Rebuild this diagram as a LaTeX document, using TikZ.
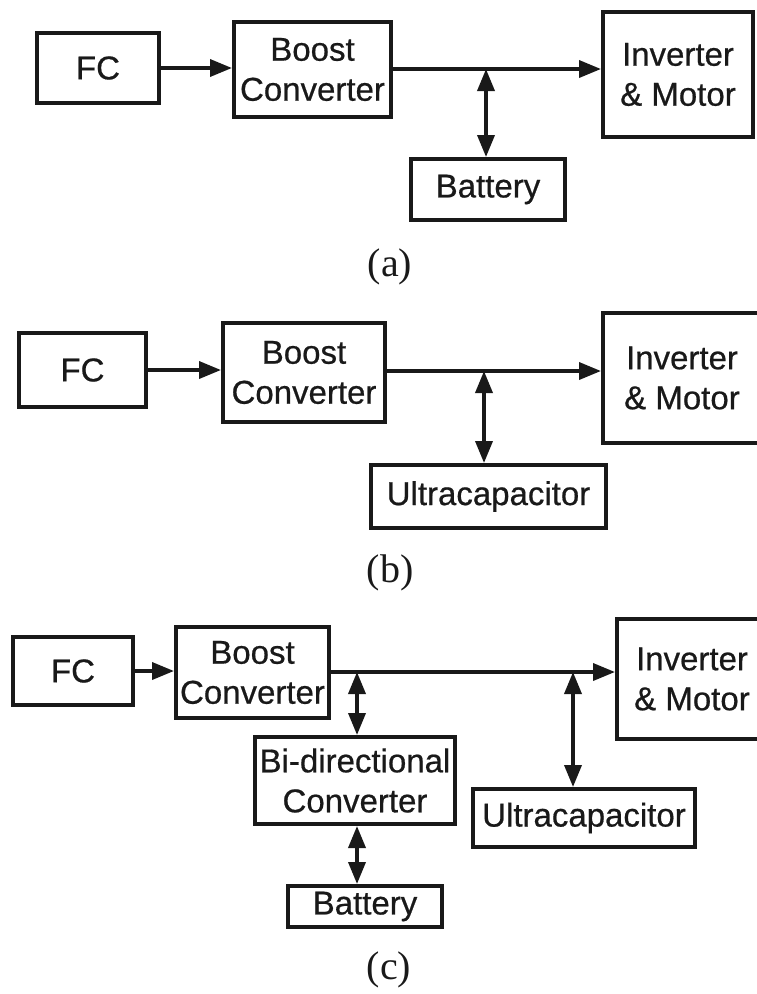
\documentclass[tikz,border=0pt]{standalone}
\usepackage{fontspec}
\setmainfont{Liberation Serif}
\setsansfont{Liberation Sans}[FakeBold=0.6]
\usetikzlibrary{arrows.meta}
\tikzset{
  blk/.style={draw=black!90, line width=4pt, inner sep=0pt, align=center,
    text=black!90, font=\sffamily\fontsize{33}{40}\selectfont},
  flow/.style={draw=black!90, line width=3.6pt, -{Triangle[length=22pt,width=17pt]}},
  dflow/.style={draw=black!90, line width=3.6pt, {Triangle[length=22pt,width=17pt]}-{Triangle[length=22pt,width=17pt]}},
  bus/.style={draw=black!90, line width=3.6pt},
  sublbl/.style={text=black!90, font=\fontsize{40}{42}\selectfont}
}
\begin{document}
\begin{tikzpicture}[x=1pt, y=-1pt]
    \useasboundingbox (0,0) rectangle (756,994);
    % (a)
    \node[blk, minimum width=122, minimum height=70] (fcA) at (98,68) {FC};
    \node[blk, minimum width=157, minimum height=95] (boostA) at (312.5,69.5) {Boost\\Converter};
    \node[blk, minimum width=150, minimum height=125] (invA) at (678,74.5) {Inverter\\\& Motor};
    \node[blk, minimum width=154, minimum height=61] (batA) at (488,189.5) {Battery};
    \coordinate (jA) at (486,69);
    \draw[flow] (fcA.east) -- (fcA.east -| boostA.west);
    \draw[flow] (boostA.east |- jA) -- (jA -| invA.west);
    \draw[dflow] (jA) -- (jA |- batA.north);
    \node[sublbl] (lblA) at (390,267) {(a)};
    % (b)
    \node[blk, minimum width=127, minimum height=74] (fcB) at (82.5,370) {FC};
    \node[blk, minimum width=162, minimum height=99] (boostB) at (304,372.5) {Boost\\Converter};
    \node[blk, minimum width=158, minimum height=130] (invB) at (682,378) {Inverter\\\& Motor};
    \node[blk, minimum width=235, minimum height=63] (ucB) at (488.5,496.5) {Ultracapacitor};
    \coordinate (jB) at (484,371);
    \draw[flow] (fcB.east) -- (fcB.east -| boostB.west);
    \draw[flow] (boostB.east |- jB) -- (jB -| invB.west);
    \draw[dflow] (jB) -- (jB |- ucB.north);
    \node[sublbl] (lblB) at (390,573) {(b)};
    % (c)
    \node[blk, minimum width=120, minimum height=68] (fcC) at (73,671) {FC};
    \node[blk, minimum width=153, minimum height=91] (boostC) at (252.5,672.5) {Boost\\Converter};
    \node[blk, minimum width=150, minimum height=120] (invC) at (692,679) {Inverter\\\& Motor};
    \node[blk, minimum width=200, minimum height=87] (bidC) at (355,780.5) {Bi-directional\\Converter};
    \node[blk, minimum width=222, minimum height=58] (ucC) at (584,818) {Ultracapacitor};
    \node[blk, minimum width=154, minimum height=41] (batC) at (365,906.5) {Battery};
    \coordinate (jC1) at (357,672);
    \coordinate (jC2) at (573,672);
    \draw[flow] (fcC.east) -- (fcC.east -| boostC.west);
    \draw[bus] (boostC.east |- jC1) -- (jC2);
    \draw[flow] (jC2) -- (jC2 -| invC.west);
    \draw[dflow] (jC1) -- (jC1 |- bidC.north);
    \draw[dflow] (jC2) -- (jC2 |- ucC.north);
    \draw[dflow] (bidC.south -| jC1) -- (jC1 |- batC.north);
    \node[sublbl] (lblC) at (389,970) {(c)};
\end{tikzpicture}
\end{document}
